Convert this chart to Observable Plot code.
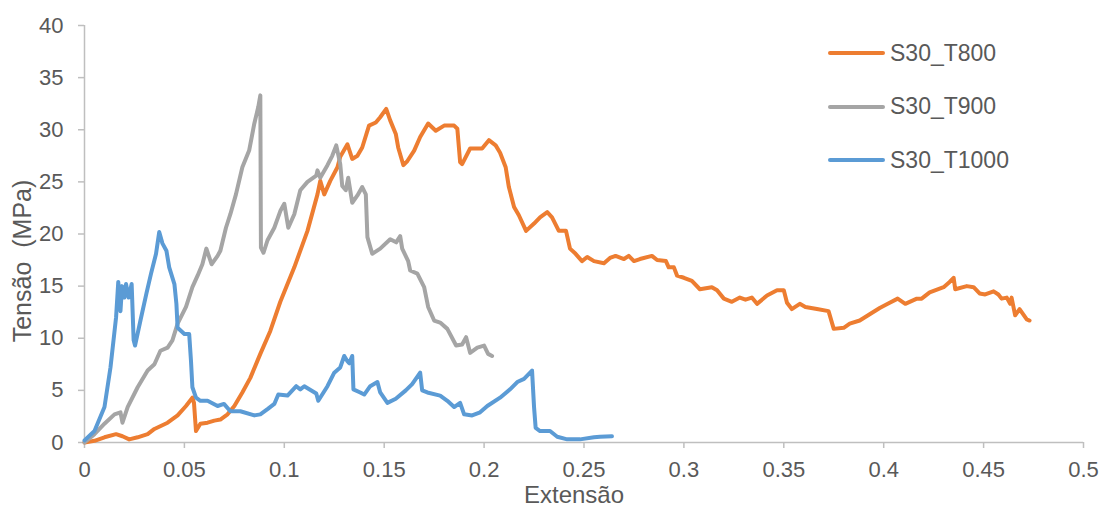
<!DOCTYPE html>
<html>
<head>
<meta charset="utf-8">
<script src="https://cdn.jsdelivr.net/npm/d3@7"></script>
<script src="https://cdn.jsdelivr.net/npm/@observablehq/plot@0.6"></script>
<style>
  html, body { margin: 0; padding: 0; background: #fff; }
  #wrap { position: relative; width: 1103px; height: 509px; font-family: "Liberation Sans", Arial, sans-serif; }
  #legend { position: absolute; left: 828px; top: 30px; }
  .item { position: absolute; left: 0; height: 30px; display: flex; align-items: center; white-space: nowrap; }
  .item svg { display: block; }
  .item span { font-size: 23px; color: #595959; margin-left: 4px; }
</style>
</head>
<body>
<div id="wrap"></div>
<script>
// ---- Data ----
const seriesNames = ["S30_T800", "S30_T900", "S30_T1000"];
const seriesColors = ["#ED7D31", "#A5A5A5", "#5B9BD5"];
const xTicks = [0, 0.05, 0.1, 0.15, 0.2, 0.25, 0.3, 0.35, 0.4, 0.45, 0.5];
const yTicks = [0, 5, 10, 15, 20, 25, 30, 35, 40];
const xTitle = "Extensão";
const yTitle = "Tensão  (MPa)";

const t800 = [[0,0],[0.005,0.16],[0.01,0.5],[0.0158,0.8],[0.019,0.6],[0.0224,0.3],[0.0266,0.5],[0.0316,0.8],[0.035,1.3],[0.0416,1.9],[0.0466,2.6],[0.0508,3.5],[0.054,4.3],[0.0548,3.8],[0.0558,1.1],[0.058,1.8],[0.0616,1.9],[0.065,2.1],[0.068,2.2],[0.0716,2.7],[0.075,3.5],[0.079,4.8],[0.083,6.2],[0.088,8.5],[0.093,10.7],[0.098,13.5],[0.105,16.8],[0.1116,20.3],[0.1166,23.8],[0.118,25.1],[0.12,23.8],[0.123,25.1],[0.1266,26.4],[0.128,27.4],[0.1316,28.6],[0.134,27.2],[0.1366,27.5],[0.139,28.3],[0.1424,30.4],[0.1458,30.7],[0.148,31.2],[0.151,32.0],[0.153,30.9],[0.1558,29.6],[0.157,28.3],[0.1596,26.6],[0.1616,27.0],[0.165,28.0],[0.168,29.3],[0.172,30.6],[0.1758,29.9],[0.18,30.4],[0.185,30.4],[0.1866,30.1],[0.188,26.9],[0.189,26.7],[0.193,28.2],[0.199,28.2],[0.2024,29.0],[0.2058,28.5],[0.208,27.8],[0.2108,26.4],[0.2124,24.5],[0.215,22.6],[0.2174,21.8],[0.221,20.3],[0.225,21.0],[0.228,21.6],[0.2316,22.1],[0.234,21.6],[0.2374,20.3],[0.241,20.3],[0.243,18.6],[0.2458,18.1],[0.249,17.4],[0.2516,17.8],[0.255,17.4],[0.26,17.2],[0.263,17.7],[0.2658,17.9],[0.27,17.6],[0.2724,17.9],[0.275,17.4],[0.278,17.6],[0.284,17.9],[0.2866,17.5],[0.291,17.4],[0.2924,16.8],[0.295,16.8],[0.2966,16.0],[0.3,15.8],[0.304,15.5],[0.308,14.7],[0.314,14.9],[0.3166,14.6],[0.32,13.8],[0.324,13.5],[0.328,13.9],[0.3308,13.7],[0.334,13.9],[0.3366,13.3],[0.3416,14.1],[0.3466,14.6],[0.35,14.6],[0.3516,13.4],[0.354,12.8],[0.358,13.3],[0.3608,13.0],[0.3666,12.8],[0.3724,12.6],[0.375,10.9],[0.38,11.0],[0.383,11.4],[0.388,11.7],[0.393,12.3],[0.398,12.9],[0.403,13.4],[0.407,13.8],[0.4108,13.3],[0.4166,13.8],[0.419,13.8],[0.423,14.4],[0.43,14.9],[0.433,15.4],[0.435,15.8],[0.4358,14.7],[0.4416,15.0],[0.445,14.9],[0.448,14.3],[0.4508,14.2],[0.455,14.5],[0.4574,14.2],[0.459,13.8],[0.4616,13.9],[0.4633,13.3],[0.464,13.9],[0.4658,12.2],[0.468,12.8],[0.4716,11.8],[0.473,11.7]];

const t900 = [[0,0],[0.005,0.8],[0.01,1.8],[0.015,2.7],[0.018,2.9],[0.019,1.9],[0.0216,3.4],[0.0266,5.3],[0.0316,6.9],[0.035,7.5],[0.038,8.8],[0.0416,9.1],[0.044,9.8],[0.0466,11.4],[0.0508,13.0],[0.054,14.9],[0.0566,16.0],[0.059,17.1],[0.061,18.6],[0.0636,17.1],[0.0666,17.9],[0.068,18.4],[0.0708,20.6],[0.073,21.9],[0.0758,23.8],[0.079,26.4],[0.0824,28.0],[0.085,30.6],[0.087,32.2],[0.088,33.3],[0.0883,18.7],[0.0896,18.2],[0.0916,19.4],[0.095,20.6],[0.098,22.2],[0.1,22.9],[0.102,20.6],[0.105,21.9],[0.108,24.2],[0.1116,25.0],[0.116,25.6],[0.1166,26.1],[0.118,25.4],[0.1216,26.6],[0.124,27.5],[0.126,28.5],[0.128,26.7],[0.129,24.6],[0.1308,24.2],[0.132,25.4],[0.134,23.0],[0.1366,23.7],[0.139,24.5],[0.1408,23.8],[0.1416,19.7],[0.144,18.1],[0.148,18.6],[0.153,19.5],[0.156,19.2],[0.158,19.8],[0.159,18.6],[0.162,17.4],[0.163,16.5],[0.1666,16.2],[0.17,14.9],[0.172,13.0],[0.175,11.7],[0.178,11.5],[0.1816,10.9],[0.186,9.3],[0.189,9.4],[0.191,10.1],[0.193,8.6],[0.1966,9.1],[0.2,9.3],[0.202,8.5],[0.204,8.3]];

const t1000 = [[0,0.2],[0.005,1.1],[0.01,3.4],[0.013,7.2],[0.0158,12],[0.0169,15.4],[0.018,12.6],[0.0188,15],[0.02,13.9],[0.0208,15.2],[0.0221,13.9],[0.0236,15.2],[0.0246,9.8],[0.0253,9.3],[0.028,11.7],[0.031,14.3],[0.0333,16.2],[0.0358,18.1],[0.0374,20.2],[0.039,19.1],[0.041,18.4],[0.0424,16.8],[0.045,15.2],[0.046,13.3],[0.0466,11.0],[0.05,10.4],[0.0524,10.4],[0.0533,7.8],[0.054,5.3],[0.0558,4.3],[0.058,4.0],[0.0616,4.0],[0.0666,3.5],[0.0698,3.7],[0.073,3.0],[0.078,3.0],[0.085,2.6],[0.088,2.7],[0.0916,3.2],[0.095,3.7],[0.097,4.6],[0.1016,4.5],[0.106,5.4],[0.108,5.1],[0.11,5.4],[0.116,4.7],[0.117,4.0],[0.1216,5.4],[0.125,6.7],[0.128,7.2],[0.13,8.3],[0.1316,7.8],[0.1325,7.6],[0.134,8.3],[0.1346,5.1],[0.138,4.8],[0.14,4.6],[0.143,5.4],[0.1466,5.8],[0.148,4.8],[0.1516,3.8],[0.1558,4.2],[0.1608,5.0],[0.164,5.6],[0.168,6.7],[0.169,5.0],[0.1716,4.8],[0.178,4.5],[0.1816,4.0],[0.185,3.4],[0.188,3.8],[0.19,2.7],[0.194,2.6],[0.198,2.9],[0.2016,3.5],[0.208,4.3],[0.213,5.1],[0.2166,5.8],[0.22,6.1],[0.224,6.9],[0.225,3.4],[0.2258,1.4],[0.228,1.1],[0.2316,1.1],[0.233,1.1],[0.2366,0.55],[0.2416,0.3],[0.248,0.3],[0.255,0.5],[0.258,0.55],[0.264,0.6]];

const seriesData = [t800, t900, t1000];

// ---- Chart ----
const axisColor = "#BFBFBF";
const textColor = "#595959";
const fmt = d => String(+d.toFixed(2));

const lineMarks = seriesData.map((s, i) => Plot.line(s, {
  x: d => d[0], y: d => d[1],
  stroke: seriesColors[i], strokeWidth: 4,
  strokeLinejoin: "round", strokeLinecap: "round"
}));

const chart = Plot.plot({
  width: 1103, height: 509,
  marginLeft: 84, marginRight: 20, marginTop: 25, marginBottom: 67,
  x: {domain: [0, 0.5]},
  y: {domain: [0, 40]},
  style: {fontFamily: "'Liberation Sans', Arial, sans-serif", fontSize: "22px", color: textColor, background: "#fff"},
  marks: [
    Plot.axisX({ticks: xTicks, tickFormat: fmt, tickSize: 6, tickPadding: 13, stroke: axisColor, fill: textColor, fontSize: 22, label: null, strokeWidth: 1.5}),
    Plot.axisY({ticks: yTicks, tickFormat: fmt, tickSize: 6, tickPadding: 15, stroke: axisColor, fill: textColor, fontSize: 22, label: null, strokeWidth: 1.5}),
    Plot.ruleY([0], {stroke: axisColor, strokeWidth: 1.5}),
    Plot.ruleX([0], {stroke: axisColor, strokeWidth: 1.5}),
    ...lineMarks,
    Plot.text([xTitle], {frameAnchor: "bottom", dx: -10, dy: 53, lineAnchor: "middle", fontSize: 24, fill: textColor, text: d => d}),
    Plot.text([yTitle], {frameAnchor: "left", dx: -62, dy: 27, rotate: -90, lineAnchor: "middle", textAnchor: "middle", fontSize: 25, fill: textColor, text: d => d})
  ]
});
chart.querySelectorAll("text").forEach(t => t.setAttribute("style", (t.getAttribute("style") || "") + ";white-space:pre"));

const wrap = document.getElementById("wrap");
wrap.appendChild(chart);

// ---- Legend ----
const legend = document.createElement("div");
legend.id = "legend";
const legendTops = [0, 53.5, 107];
seriesNames.forEach((name, i) => {
  const item = document.createElement("div");
  item.className = "item";
  item.style.top = (legendTops[i] + 8) + "px";
  item.innerHTML = `<svg width="58" height="10"><line x1="2" y1="5" x2="55" y2="5" stroke="${seriesColors[i]}" stroke-width="4" stroke-linecap="round"/></svg><span>${name}</span>`;
  legend.appendChild(item);
});
wrap.appendChild(legend);
</script>
</body>
</html>
